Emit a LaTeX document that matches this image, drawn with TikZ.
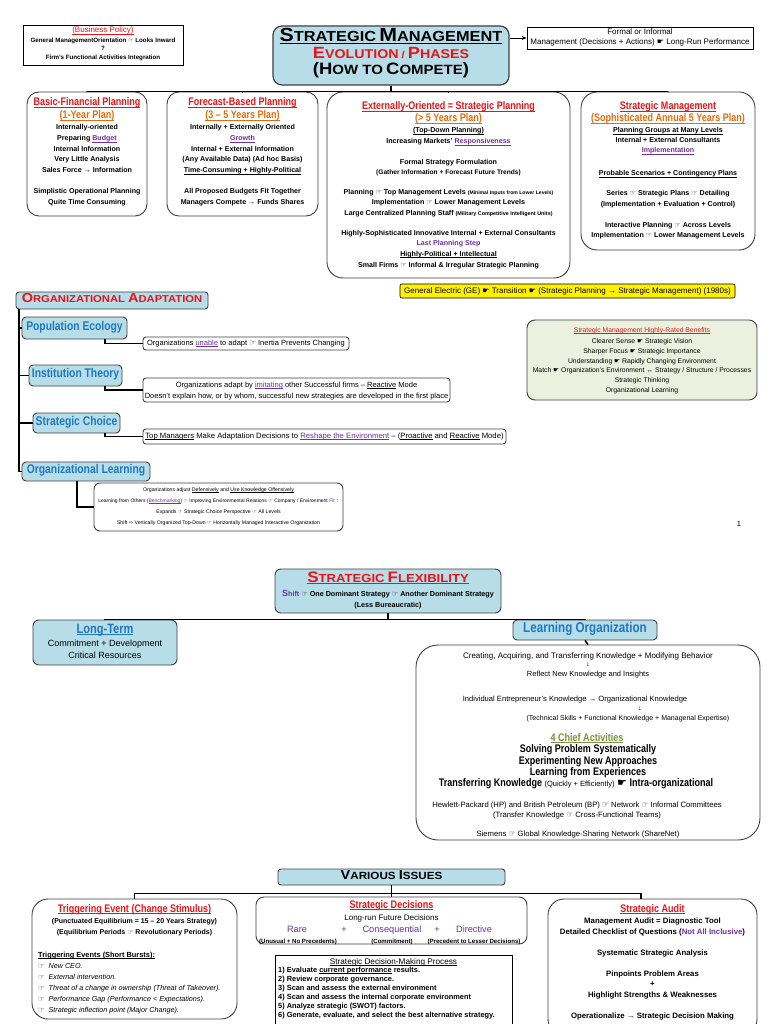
\documentclass[tikz,border=0pt]{standalone}
\usepackage{fontspec}
\setmainfont{Liberation Sans}
\newfontfamily\nar{Liberation Sans}[FakeStretch=0.82]
\newfontfamily\cop{Liberation Sans}[FakeStretch=1.12]
\newfontfamily\sym{DejaVu Sans}
\usetikzlibrary{arrows.meta}
\definecolor{cyanf}{RGB}{183,222,232}
\definecolor{rd}{RGB}{232,20,24}
\definecolor{org}{RGB}{228,108,10}
\definecolor{pur}{RGB}{112,48,160}
\definecolor{blu}{RGB}{31,120,190}
\definecolor{grn}{RGB}{119,147,60}
\definecolor{benf}{RGB}{235,241,222}
\newsavebox\ulbox
\newcommand\ul[1]{\sbox\ulbox{#1}\rlap{\rule[-1.4pt]{\wd\ulbox}{0.55pt}}\usebox\ulbox}
\newcommand\hnd{{\sym ☞}}
\newcommand\hndb{{\sym ☛}}
\newcommand\Cs[2]{{\fontsize{#1}{#1}\selectfont #2}}
\tikzset{
  tx/.style={inner sep=0pt, text height=5.5pt, text depth=1.5pt},
  nb/.style={tx, font=\fontsize{7.1}{9}\selectfont\bfseries},
  rr/.style={tx, font=\fontsize{7.5}{9}\selectfont},
  rbf/.style={tx, font=\fontsize{8.4}{10}\selectfont\bfseries},
  ns/.style={tx, font=\fontsize{5.2}{7}\selectfont},
  hd/.style={tx, font=\nar\fontsize{11}{13}\selectfont\bfseries, text=rd},
  hdo/.style={hd, text=org},
  bt/.style={tx, font=\nar\fontsize{12.6}{14}\selectfont\bfseries, text=blu},
  rb/.style={draw=black!75, line width=0.9pt, rounded corners=#1, inner sep=0pt, fill=white},
  rb/.default=10,
  cb/.style={draw=black!75, line width=0.9pt, rounded corners=#1, inner sep=0pt, fill=cyanf},
  cb/.default=4,
  sb/.style={draw=black, line width=0.7pt, inner sep=0pt, fill=white},
  conn/.style={line width=1.5pt, black},
}
\begin{document}
\begin{tikzpicture}[x=1pt,y=-1pt]
\fill[white] (0,0) rectangle (768,1024);
\useasboundingbox (0,0) rectangle (768,1024);
\clip (0,0) rectangle (768,1024);

% ---------------- top ----------------
\node[sb, minimum width=160, minimum height=40] (bp) at (103,45) {};
\node[tx, font=\fontsize{8}{9}\selectfont, text=rd] (bp1) at (103,31) {\ul{(Business Policy)}};
\node[tx, font=\fontsize{6.2}{8}\selectfont\bfseries] (bp2) at (103,41) {General ManagementOrientation \hnd\ Looks Inward};
\node[tx, font=\fontsize{6.2}{8}\selectfont\bfseries] (bp3) at (103,49) {?};
\node[tx, font=\fontsize{6.2}{8}\selectfont\bfseries] (bp4) at (103,58) {Firm's Functional Activities Integration};

\node[cb=9, minimum width=236, minimum height=59, line width=1.2pt] (tm) at (391,55.5) {};
\node[tx, font=\cop\bfseries] (tm1) at (391,40) {\underline{\Cs{19}{S}\Cs{14.6}{TRATEGIC} \Cs{19}{M}\Cs{14.6}{ANAGEMENT}}};
\node[tx, font=\cop\bfseries, text=rd] (tm2) at (391,57) {\Cs{16.2}{E}\Cs{12.7}{VOLUTION} / \Cs{16.2}{P}\Cs{12.7}{HASES}};
\node[tx, font=\cop\bfseries] (tm3) at (391,73) {\Cs{16.5}{(H}\Cs{13.4}{OW TO} \Cs{16.5}{C}\Cs{13.4}{OMPETE}\Cs{16.5}{)}};

\node[sb, minimum width=226, minimum height=22] (tr) at (640,38) {};
\node[tx, font=\fontsize{8}{9}\selectfont] (tr1) at (640,33) {Formal or Informal};
\node[tx, font=\fontsize{8}{9}\selectfont] (tr2) at (640,43) {Management (Decisions + Actions) \hndb\ Long-Run Performance};
\draw[-{Stealth[length=5pt,width=4pt]}, line width=0.6pt] (tm.east |- tr.west) -- (tr.west);

% boxes row
\node[rb=12, minimum width=120, minimum height=124] (b1) at (87,154) {};
\node[rb=12, minimum width=151, minimum height=124] (b2) at (242.5,154) {};
\node[rb=16, minimum width=243, minimum height=186] (b3) at (448.5,185) {};
\node[rb=16, minimum width=174, minimum height=158] (b4) at (668,171) {};
\draw[conn] (tm.south) -- ++(0,6) coordinate (j1);
\draw[conn] (b1.north) |- (j1) -| (b4.north);
\draw[conn] (b2.north) -- (b2.north |- j1);
\draw[conn] (b3.north) -- (b3.north |- j1);

\node[hd] (a1) at (87,104) {\ul{Basic-Financial Planning}};
\node[hdo] (a2) at (87,117) {\ul{(1-Year Plan)}};
\node[nb] (a3) at (87,128) {Internally-oriented};
\node[nb] (a4) at (87,139) {Preparing {\color{pur}\ul{Budget}}};
\node[nb] (a5) at (87,150) {Internal Information};
\node[nb] (a6) at (87,160) {Very Little Analysis};
\node[nb] (a7) at (87,171) {Sales Force → Information};
\node[nb] (a8) at (87,192) {Simplistic Operational Planning};
\node[nb] (a9) at (87,203) {Quite Time Consuming};

\node[hd] (c1) at (242.5,104) {\ul{Forecast-Based Planning}};
\node[hdo] (c2) at (242.5,117) {\ul{(3 – 5 Years Plan)}};
\node[nb] (c3) at (242.5,128) {Internally + Externally Oriented};
\node[nb, text=pur] (c4) at (242.5,139) {\ul{Growth}};
\node[nb] (c5) at (242.5,150) {Internal + External Information};
\node[nb] (c6) at (242.5,160) {(Any Available Data) (Ad hoc Basis)};
\node[nb] (c7) at (242.5,171) {\ul{Time-Consuming + Highly-Political}};
\node[nb] (c8) at (242.5,192) {All Proposed Budgets Fit Together};
\node[nb] (c9) at (242.5,203) {Managers Compete → Funds Shares};

\node[hd] (d1) at (448.5,108) {\ul{Externally-Oriented = Strategic Planning}};
\node[hdo] (d2) at (448.5,120) {\ul{(> 5 Years Plan)}};
\node[nb] (d3) at (448.5,131) {\ul{(Top-Down Planning)}};
\node[nb] (d4) at (448.5,142) {Increasing Markets' {\color{pur}\ul{Responsiveness}}};
\node[nb] (d5) at (448.5,163) {Formal Strategy Formulation};
\node[nb, font=\fontsize{6.6}{8}\selectfont\bfseries] (d6) at (448.5,173) {(Gather Information + Forecast Future Trends)};
\node[nb] (d7) at (448.5,193) {Planning \hnd\ Top Management Levels {\fontsize{5.1}{6}\selectfont (Minimal Inputs from Lower Levels)}};
\node[nb] (d8) at (448.5,203) {Implementation \hnd\ Lower Management Levels};
\node[nb] (d9) at (448.5,214) {Large Centralized Planning Staff {\fontsize{5.4}{6}\selectfont (Military Competitive Intelligent Units)}};
\node[nb] (d10) at (448.5,234) {Highly-Sophisticated Innovative Internal + External Consultants};
\node[nb, text=pur] (d11) at (448.5,243) {Last Planning Step};
\node[nb] (d12) at (448.5,254) {\ul{Highly-Political + Intellectual}};
\node[nb] (d13) at (448.5,265) {Small Firms \hnd\ Informal \& Irregular Strategic Planning};

\node[hd] (e1) at (668,108) {\ul{Strategic Management}};
\node[hdo] (e2) at (668,120) {\ul{(Sophisticated Annual 5 Years Plan)}};
\node[nb] (e3) at (668,131) {\ul{Planning Groups at Many Levels}};
\node[nb] (e4) at (668,141) {Internal + External Consultants};
\node[nb, text=pur] (e5) at (668,151) {\ul{Implementation}};
\node[nb] (e6) at (668,174) {\ul{Probable Scenarios + Contingency Plans}};
\node[nb] (e7) at (668,194) {Series \hnd\ Strategic Plans \hnd\ Detailing};
\node[nb] (e8) at (668,205) {(Implementation + Evaluation + Control)};
\node[nb] (e9) at (668,225) {Interactive Planning \hnd\ Across Levels};
\node[nb] (e10) at (668,235) {Implementation \hnd\ Lower Management Levels};

\node[draw=black, line width=0.6pt, fill=yellow, rounded corners=2, inner sep=0pt, minimum width=335, minimum height=14] (ge) at (567.5,291) {};
\node[tx, font=\fontsize{8}{9}\selectfont] (ge1) at (567.5,291) {General Electric (GE) \hndb\ Transition \hndb\ (Strategic Planning → Strategic Management) (1980s)};

% ---------------- organizational adaptation ----------------
\node[cb=3, minimum width=192, minimum height=17] (oa) at (112,300.5) {};
\node[tx, font=\cop\bfseries, text=rd] (oa1) at (112,300.5) {\Cs{13}{O}\Cs{10}{RGANIZATIONAL} \Cs{13}{A}\Cs{10}{DAPTATION}};

\node[cb=4, minimum width=105, minimum height=22] (pe) at (74.5,328) {};
\node[bt] (pe1) at (74.5,328) {Population Ecology};
\node[cb=4, minimum width=93, minimum height=21] (it) at (75.5,375.5) {};
\node[bt] (it1) at (75.5,375.5) {Institution Theory};
\node[cb=4, minimum width=87, minimum height=20] (sc) at (76.5,423) {};
\node[bt] (sc1) at (76.5,423) {Strategic Choice};
\node[cb=4, minimum width=128, minimum height=19] (ol) at (86,471.5) {};
\node[bt] (ol1) at (86,471.5) {Organizational Learning};

\node[rb=3, minimum width=206, minimum height=13] (pet) at (246,343.5) {};
\node[rr] (pet1) at (246,343.5) {Organizations {\color{pur}\ul{unable}} to adapt \hnd\ Inertia Prevents Changing};
\node[rb=3, minimum width=307, minimum height=24] (itt) at (296.5,390) {};
\node[rr] (itt1) at (296.5,385) {Organizations adapt by {\color{pur}\ul{imitating}} other Successful firms – \ul{Reactive} Mode};
\node[rr] (itt2) at (296.5,396) {Doesn't explain how, or by whom, successful new strategies are developed in the first place};
\node[rb=3, minimum width=363, minimum height=15] (sct) at (324.5,436.5) {};
\node[rr, font=\fontsize{7.7}{9}\selectfont] (sct1) at (324.5,436.5) {\ul{Top Managers} Make Adaptation Decisions to {\color{pur}\ul{Reshape the Environment}} – (\ul{Proactive} and \ul{Reactive} Mode)};
\node[rb=6, minimum width=249, minimum height=48] (olt) at (218.5,507) {};
\node[ns] (olt1) at (218.5,489) {Organizations adjust \ul{Defensively} and \ul{Use Knowledge Offensively}};
\node[ns, font=\fontsize{5}{7}\selectfont] (olt2) at (218.5,500) {Learning from Others ({\color{pur}\ul{Benchmarking}}) \hnd\ Improving Environmental Relations \hnd\ Company / Environment {\color{pur}Fit} ↑};
\node[ns] (olt3) at (218.5,511) {Expands \hnd\ Strategic Choice Perspective \hnd\ All Levels};
\node[ns] (olt4) at (218.5,522) {Shift {\sym ⇨} Vertically Organized Top-Down \hnd\ Horizontally Managed Interactive Organization};

\coordinate (vx) at (19,0);
\coordinate (cx) at (105,0);
\coordinate (cx2) at (77,0);
\draw[conn] (oa.south -| vx) |- (ol.west);
\draw[conn] (pe.west -| vx) -- (pe.west);
\draw[conn] (it.west -| vx) -- (it.west);
\draw[conn] (sc.west -| vx) -- (sc.west);
\draw[conn] (pe.south -| cx) |- (pet.west);
\draw[conn] (it.south -| cx) |- (itt.west);
\draw[conn] (sc.south -| cx) |- (sct.west);
\draw[conn] (ol.south -| cx2) |- (olt.west);

\node[draw=black!75, line width=0.9pt, rounded corners=8, inner sep=0pt, fill=benf, minimum width=230, minimum height=80] (bn) at (642,360) {};
\node[tx, font=\fontsize{6.8}{8}\selectfont, text=rd] (bn1) at (642,330) {\ul{Strategic Management Highly-Rated Benefits}};
\node[tx, font=\fontsize{6.8}{8}\selectfont] (bn2) at (642,341) {Clearer Sense \hndb\ Strategic Vision};
\node[tx, font=\fontsize{6.8}{8}\selectfont] (bn3) at (642,351) {Sharper Focus \hndb\ Strategic Importance};
\node[tx, font=\fontsize{6.8}{8}\selectfont] (bn4) at (642,361) {Understanding \hndb\ Rapidly Changing Environment};
\node[tx, font=\fontsize{6.8}{8}\selectfont] (bn5) at (642,370) {Match \hndb\ Organization's Environment ↔ Strategy / Structure / Processes};
\node[tx, font=\fontsize{6.8}{8}\selectfont] (bn6) at (642,380) {Strategic Thinking};
\node[tx, font=\fontsize{6.8}{8}\selectfont] (bn7) at (642,390) {Organizational Learning};

\node[rr] (pg) at (739,524) {1};

% ---------------- strategic flexibility ----------------
\node[cb=6, minimum width=226, minimum height=44] (sf) at (388,591) {};
\node[tx, font=\cop\bfseries, text=rd] (sf1) at (388,580) {\underline{\Cs{15.2}{S}\Cs{11.7}{TRATEGIC} \Cs{15.2}{F}\Cs{11.7}{LEXIBILITY}}};
\node[nb, font=\fontsize{7.2}{9}\selectfont\bfseries] (sf2) at (388,594) {{\color{pur}\Cs{9}{S}hift} \hnd\ One Dominant Strategy \hnd\ Another Dominant Strategy};
\node[nb, font=\fontsize{7.2}{9}\selectfont\bfseries] (sf3) at (388,605) {(Less Bureaucratic)};

\node[cb=6, minimum width=144, minimum height=45] (lt) at (105,642.5) {};
\node[tx, font=\nar\fontsize{13.5}{15}\selectfont\bfseries, text=blu] (lt1) at (105,631) {\ul{Long-Term}};
\node[tx, font=\fontsize{9}{10}\selectfont] (lt2) at (105,644) {Commitment + Development};
\node[tx, font=\fontsize{9}{10}\selectfont] (lt3) at (105,656) {Critical Resources};
\node[cb=4, minimum width=144, minimum height=20] (lo) at (585,630) {};
\node[tx, font=\nar\fontsize{14.2}{15}\selectfont\bfseries, text=blu] (lo1) at (585,630) {Learning Organization};
\node[rb=22, minimum width=344, minimum height=195] (lob) at (588,742.5) {};

\draw[conn] (sf.south) -- ++(0,6) coordinate (j2);
\draw[conn] (lt.north) |- (j2) -| (lo.north);
\draw[conn] (lo.south) -- (lob.north);

\node[rr, font=\fontsize{8}{9}\selectfont] (l1) at (588,656) {Creating, Acquiring, and Transferring Knowledge + Modifying Behavior};
\node[rr] (l2) at (588,664) {↓};
\node[rr] (l3) at (588,674) {Reflect New Knowledge and Insights};
\node[rr, font=\fontsize{7.6}{9}\selectfont] (l4) at (575,699) {Individual Entrepreneur's Knowledge → Organizational Knowledge};
\node[rr] (l5) at (640,708) {↓};
\node[rr, font=\fontsize{7}{9}\selectfont] (l6) at (628,718) {(Technical Skills + Functional Knowledge + Managerial Expertise)};
\node[tx, font=\nar\fontsize{11}{13}\selectfont\bfseries, text=grn] (l7) at (587,739) {\ul{4 Chief Activities}};
\node[tx, font=\nar\fontsize{11}{13}\selectfont\bfseries] (l8) at (588,750) {Solving Problem Systematically};
\node[tx, font=\nar\fontsize{11}{13}\selectfont\bfseries] (l9) at (588,762) {Experimenting New Approaches};
\node[tx, font=\nar\fontsize{11}{13}\selectfont\bfseries] (l10) at (588,773) {Learning from Experiences};
\node[tx, font=\nar\fontsize{11}{13}\selectfont\bfseries] (l11) at (576,784) {Transferring Knowledge {\rmfamily\mdseries\fontsize{7.5}{9}\selectfont (Quickly + Efficiently)} \hndb\ Intra-organizational};
\node[rr, font=\fontsize{7.7}{9}\selectfont] (l12) at (577,805) {Hewlett-Packard (HP) and British Petroleum (BP) \hnd\ Network \hnd\ Informal Committees};
\node[rr, font=\fontsize{7.7}{9}\selectfont] (l13) at (577,815) {(Transfer Knowledge \hnd\ Cross-Functional Teams)};
\node[rr, font=\fontsize{7.7}{9}\selectfont] (l14) at (578,834) {Siemens \hnd\ Global Knowledge-Sharing Network (ShareNet)};

% ---------------- various issues ----------------
\node[cb=3, minimum width=227, minimum height=16] (vi) at (391.5,877) {};
\node[tx, font=\cop\bfseries] (vi1) at (391.5,877) {\Cs{13}{V}\Cs{10.4}{ARIOUS} \Cs{13}{I}\Cs{10.4}{SSUES}};

\node[rb=16, minimum width=205, minimum height=120] (te) at (134.5,959) {};
\node[rb=8, minimum width=271, minimum height=47] (sd) at (391.5,920.5) {};
\node[sb, minimum width=237, minimum height=75] (sp) at (393.5,992.5) {};
\node[rb=16, minimum width=209, minimum height=136] (sa) at (652.5,967) {};
\draw[conn] (vi.south) -- ++(0,8) coordinate (j3);
\coordinate (ax) at (641,0);
\draw[conn] (te.north) |- (j3) -| (sa.north -| ax);
\draw[conn] (sd.north) -- (sd.north |- j3);

\node[hd] (t1) at (134.5,910) {\ul{Triggering Event (Change Stimulus)}};
\node[nb, font=\fontsize{7}{9}\selectfont\bfseries] (t2) at (134.5,921) {(Punctuated Equilibrium = 15 – 20 Years Strategy)};
\node[nb, font=\fontsize{7}{9}\selectfont\bfseries] (t3) at (134.5,932) {(Equilibrium Periods \hnd\ Revolutionary Periods)};
\node[nb, anchor=west, font=\fontsize{7.4}{9}\selectfont\bfseries] (t4) at (38,955) {\ul{Triggering Events (Short Bursts):}};
\node[rr, anchor=west, font=\fontsize{7.2}{9}\selectfont\itshape] (t5) at (38,966) {\hnd\ \ New CEO.};
\node[rr, anchor=west, font=\fontsize{7.2}{9}\selectfont\itshape] (t6) at (38,977) {\hnd\ \ External intervention.};
\node[rr, anchor=west, font=\fontsize{7.2}{9}\selectfont\itshape] (t7) at (38,988) {\hnd\ \ Threat of a change in ownership (Threat of Takeover).};
\node[rr, anchor=west, font=\fontsize{7.2}{9}\selectfont\itshape] (t8) at (38,999) {\hnd\ \ Performance Gap (Performance < Expectations).};
\node[rr, anchor=west, font=\fontsize{7.2}{9}\selectfont\itshape] (t9) at (38,1010) {\hnd\ \ Strategic inflection point (Major Change).};

\node[hd] (s1) at (391.5,906) {\ul{Strategic Decisions}};
\node[tx, font=\fontsize{8}{10}\selectfont] (s2) at (391.5,918) {Long-run Future Decisions};
\node[tx, font=\fontsize{9.2}{11}\selectfont, text=pur] (s3) at (297,930) {Rare};
\node[tx, font=\fontsize{9.2}{11}\selectfont, text=pur] (s4) at (344,930) {+};
\node[tx, font=\fontsize{9.2}{11}\selectfont, text=pur] (s5) at (392,930) {Consequential};
\node[tx, font=\fontsize{9.2}{11}\selectfont, text=pur] (s6) at (437,930) {+};
\node[tx, font=\fontsize{9.2}{11}\selectfont, text=pur] (s7) at (474,930) {Directive};
\node[tx, font=\fontsize{6.1}{8}\selectfont\bfseries] (s8) at (298,941) {(Unusual + No Precedents)};
\node[tx, font=\fontsize{6.1}{8}\selectfont\bfseries] (s9) at (392,941) {(Commitment)};
\node[tx, font=\fontsize{6.1}{8}\selectfont\bfseries] (s10) at (474,941) {(Precedent to Lesser Decisions)};

\node[rr, font=\fontsize{8.2}{9}\selectfont] (p0) at (393.5,962) {\ul{Strategic Decision-Making Process}};
\node[rbf, anchor=west, font=\fontsize{7.4}{9}\selectfont\bfseries] (p1) at (278,970) {1) Evaluate \ul{current performance} results.};
\node[rbf, anchor=west, font=\fontsize{7.4}{9}\selectfont\bfseries] (p2) at (278,979) {2) Review corporate governance.};
\node[rbf, anchor=west, font=\fontsize{7.4}{9}\selectfont\bfseries] (p3) at (278,988) {3) Scan and assess the external environment};
\node[rbf, anchor=west, font=\fontsize{7.4}{9}\selectfont\bfseries] (p4) at (278,997) {4) Scan and assess the internal corporate environment};
\node[rbf, anchor=west, font=\fontsize{7.4}{9}\selectfont\bfseries] (p5) at (278,1006) {5) Analyze strategic (SWOT) factors.};
\node[rbf, anchor=west, font=\fontsize{7.4}{9}\selectfont\bfseries] (p6) at (278,1015) {6) Generate, evaluate, and select the best alternative strategy.};

\node[hd] (u1) at (652.5,910) {\ul{Strategic Audit}};
\node[rbf, font=\fontsize{7.8}{9}\selectfont\bfseries] (u2) at (652.5,921) {Management Audit = Diagnostic Tool};
\node[rbf, font=\fontsize{7.8}{9}\selectfont\bfseries] (u3) at (652.5,932) {Detailed Checklist of Questions ({\color{pur}Not All Inclusive})};
\node[rbf, font=\fontsize{7.8}{9}\selectfont\bfseries] (u4) at (652.5,953) {Systematic Strategic Analysis};
\node[rbf, font=\fontsize{7.8}{9}\selectfont\bfseries] (u5) at (652.5,974) {Pinpoints Problem Areas};
\node[rbf, font=\fontsize{7.8}{9}\selectfont\bfseries] (u6) at (652.5,984) {+};
\node[rbf, font=\fontsize{7.8}{9}\selectfont\bfseries] (u7) at (652.5,995) {Highlight Strengths \& Weaknesses};
\node[rbf, font=\fontsize{7.8}{9}\selectfont\bfseries] (u8) at (652.5,1016) {Operationalize → Strategic Decision Making};
\end{tikzpicture}
\end{document}
